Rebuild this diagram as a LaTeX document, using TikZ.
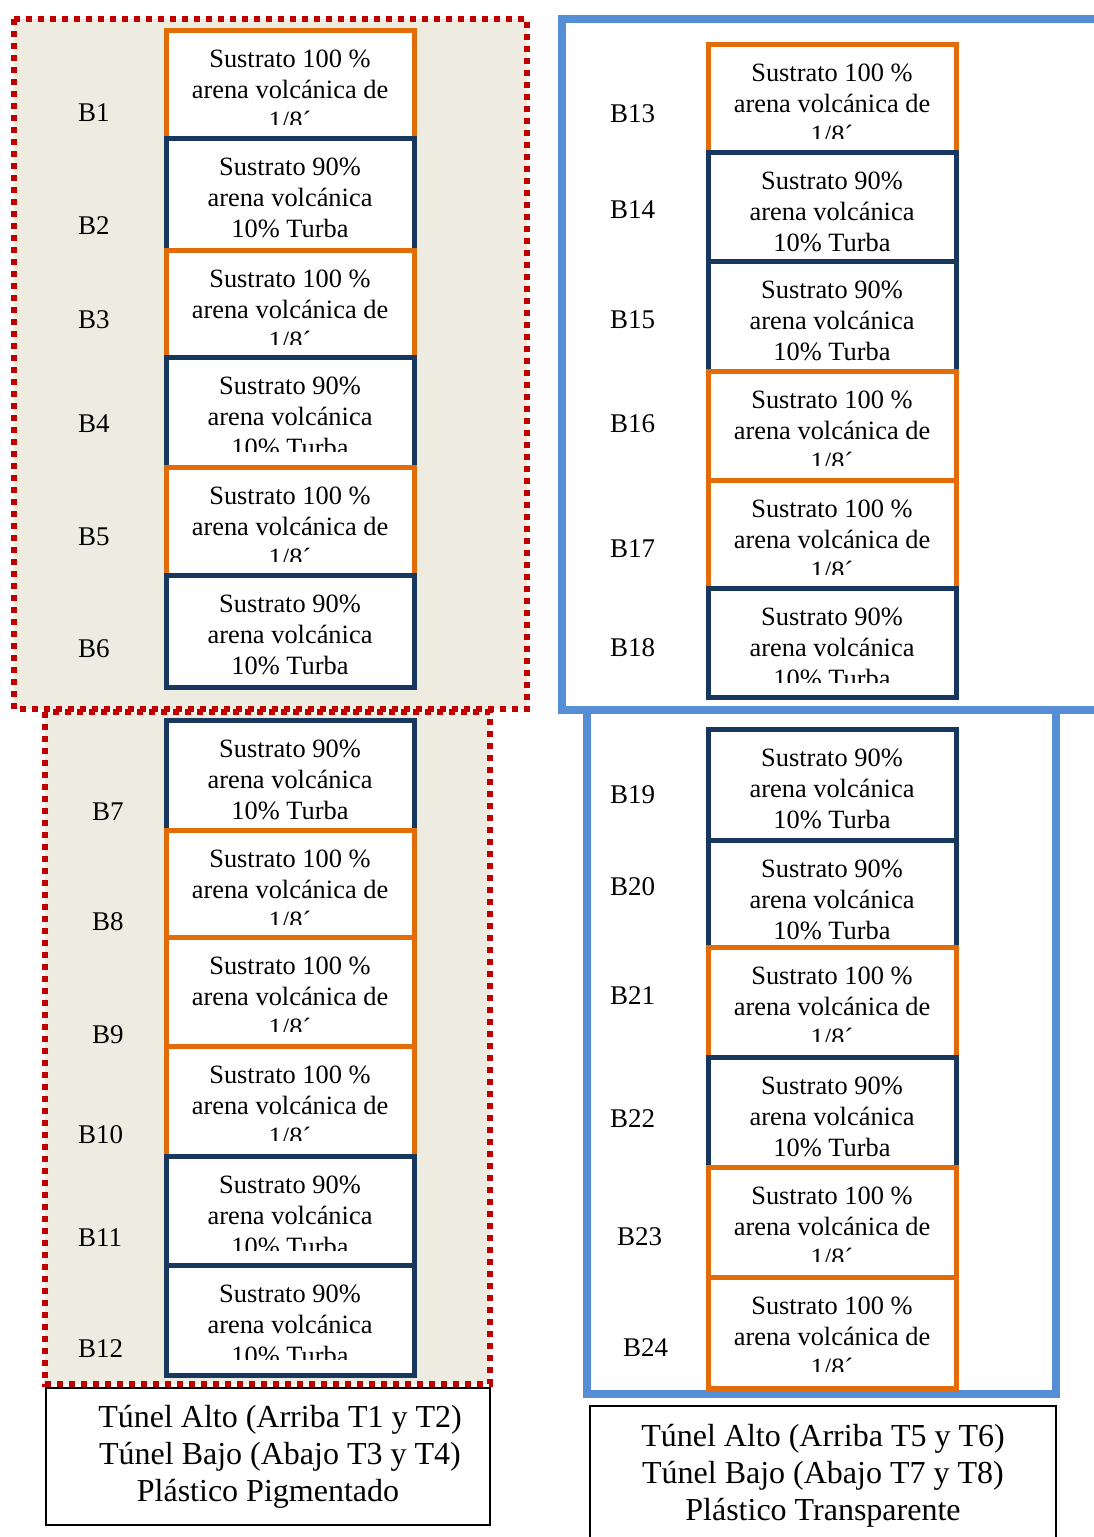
\documentclass[tikz,border=0pt]{standalone}
\usepackage{fontspec}
\setmainfont{Liberation Serif}
\definecolor{orangeC}{HTML}{E36C09}
\definecolor{navyC}{HTML}{17375E}
\definecolor{redC}{HTML}{C00000}
\definecolor{blueC}{HTML}{558ED5}
\definecolor{beigeC}{HTML}{EEECE1}
\tikzset{
  cell/.style={rectangle, line width=5pt, minimum width=248pt, inner sep=0pt, fill=white},
  obox/.style={cell, draw=orangeC},
  nbox/.style={cell, draw=navyC},
  boxtext/.style={anchor=north, align=center, inner sep=0pt, font=\fontsize{26.4}{31}\selectfont},
  lbl/.style={anchor=base west, inner sep=0pt, font=\fontsize{27}{32}\selectfont},
  redframe/.style={draw=redC, line width=6pt, dash pattern=on 6pt off 6pt, fill=beigeC},
  blueframe/.style={draw=blueC, line width=8pt},
  capbox/.style={rectangle, draw=black, line width=1.8pt, inner sep=0pt},
  captext/.style={anchor=north, align=center, inner sep=0pt, font=\fontsize{32}{37}\selectfont}
}
\newcommand{\txtobox}{Sustrato 100 \%\\arena volcánica de\\1/8´}
\newcommand{\txtnbox}{Sustrato 90\%\\arena volcánica\\10\% Turba}
% #1 name, #2 centre x, #3 top, #4 bottom, #5 style, #6 lower edge of the text window
\newcommand{\cellbox}[6]{%
  \node[#5, minimum height={#4-#3}] (#1) at (#2,{(#3+#4)/2}) {};
  \begin{scope}
    \clip (#2-121,#3+3) rectangle (#2+121,#6);
    \node[boxtext] (#1txt) at (#2,#3+20) {\csname txt#5\endcsname};
  \end{scope}}
% #1 name, #2 x, #3 y centre, #4 text
\newcommand{\blabel}[4]{\node[lbl] (#1) at (#2,#3+9) {#4};}
\begin{document}
\begin{tikzpicture}[x=1pt,y=-1pt]
\useasboundingbox (0,0) rectangle (1094,1537);
\fill[white] (0,0) rectangle (1094,1537);
% frames
\draw[redframe] (14,19) rectangle (527,709);
\draw[redframe] (45,712) rectangle (490,1384);
\draw[blueframe] (562,19) rectangle (1120,710);
\draw[blueframe] (587,710) rectangle (1056,1394);
% left top column
\cellbox{c1}{290}{30}{138}{obox}{124}
\cellbox{c2}{290}{138}{250}{nbox}{247}
\cellbox{c3}{290}{250}{357}{obox}{344}
\cellbox{c4}{290}{357}{467}{nbox}{451}
\cellbox{c5}{290}{467}{575}{obox}{561}
\cellbox{c6}{290}{575}{687}{nbox}{684}
% left bottom column
\cellbox{c7}{290}{720}{830}{nbox}{827}
\cellbox{c8}{290}{830}{937}{obox}{924}
\cellbox{c9}{290}{937}{1046}{obox}{1031}
\cellbox{c10}{290}{1046}{1156}{obox}{1140}
\cellbox{c11}{290}{1156}{1265}{nbox}{1250}
\cellbox{c12}{290}{1265}{1375}{nbox}{1359}
% right top column
\cellbox{c13}{832}{44}{152}{obox}{138}
\cellbox{c14}{832}{152}{261}{nbox}{258}
\cellbox{c15}{832}{261}{371}{nbox}{368}
\cellbox{c16}{832}{371}{480}{obox}{465}
\cellbox{c17}{832}{480}{588}{obox}{574}
\cellbox{c18}{832}{588}{697}{nbox}{682}
% right bottom column
\cellbox{c19}{832}{729}{840}{nbox}{837}
\cellbox{c20}{832}{840}{947}{nbox}{944}
\cellbox{c21}{832}{947}{1057}{obox}{1041}
\cellbox{c22}{832}{1057}{1167}{nbox}{1164}
\cellbox{c23}{832}{1167}{1277}{obox}{1261}
\cellbox{c24}{832}{1277}{1388}{obox}{1371}
% labels
\blabel{l1}{78}{112}{B1}
\blabel{l2}{78}{225}{B2}
\blabel{l3}{78}{319}{B3}
\blabel{l4}{78}{423}{B4}
\blabel{l5}{78}{536}{B5}
\blabel{l6}{78}{648}{B6}
\blabel{l7}{92}{811}{B7}
\blabel{l8}{92}{921}{B8}
\blabel{l9}{92}{1034}{B9}
\blabel{l10}{78}{1134}{B10}
\blabel{l11}{78}{1237}{B11}
\blabel{l12}{78}{1348}{B12}
\blabel{l13}{610}{113}{B13}
\blabel{l14}{610}{209}{B14}
\blabel{l15}{610}{319}{B15}
\blabel{l16}{610}{423}{B16}
\blabel{l17}{610}{548}{B17}
\blabel{l18}{610}{647}{B18}
\blabel{l19}{610}{794}{B19}
\blabel{l20}{610}{886}{B20}
\blabel{l21}{610}{995}{B21}
\blabel{l22}{610}{1118}{B22}
\blabel{l23}{617}{1236}{B23}
\blabel{l24}{623}{1347}{B24}
% captions
\node[capbox, minimum width=444pt, minimum height=137pt] (capL) at (268,1456.5) {};
\node[captext] (capLtxt) at (268,1405) {\hspace*{24pt}Túnel Alto (Arriba T1 y T2)\\\hspace*{24pt}Túnel Bajo (Abajo T3 y T4)\\Plástico Pigmentado};
\node[capbox, minimum width=466pt, minimum height=139pt] (capR) at (823,1475.5) {};
\node[captext] (capRtxt) at (823,1424) {Túnel Alto (Arriba T5 y T6)\\Túnel Bajo (Abajo T7 y T8)\\Plástico Transparente};
\end{tikzpicture}
\end{document}
